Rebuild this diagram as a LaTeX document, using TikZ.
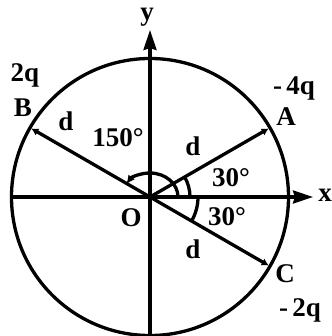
\documentclass[tikz,border=0pt]{standalone}
\usepackage{fontspec}
\setmainfont{Liberation Serif}
\usetikzlibrary{arrows.meta}
\begin{document}
\begin{tikzpicture}[
		x = 1pt, y = 1pt,
		ln/.style   = {line width=3.3pt},
		axis/.style = {ln, -{Stealth[length=20pt, width=13pt, inset=2pt]}},
		rad/.style  = {ln, -{Latex[length=7pt, width=8pt]}},
		lbl/.style  = {font=\fontsize{27}{31}\selectfont\bfseries, inner sep=0pt}
		]
		\useasboundingbox (-150,-139) rectangle (181,197);
		
		\coordinate (O)  at (0,0);
		\coordinate (xl) at (-138,0);
		\coordinate (xr) at (163,0);
		\coordinate (yb) at (0,-139);
		\coordinate (yt) at (0,167);
		\coordinate (A)  at (30:137);
		\coordinate (B)  at (150:137);
		\coordinate (C)  at (-30:137);
		
		\draw[ln] (O) circle[radius=138.5];
		\draw[axis] (xl) -- (xr);
		\draw[axis] (yb) -- (yt);
		
		\draw[rad] (O) -- (A);
		\draw[rad] (O) -- (B);
		\draw[rad] (O) -- (C);
		
		% angle marks
		\draw[ln] (40,0) arc[start angle=0, end angle=30, radius=40];
		\draw[ln] (48,0) arc[start angle=0, end angle=-30, radius=48];
		\draw[ln, -{Latex[length=9pt, width=8pt]}] (28,0) arc[start angle=0, end angle=148, x radius=28, y radius=24];
		
		\node[lbl] (lx)   at (175,2)     {x};
		\node[lbl] (ly)   at (-3,180)    {y};
		\node[lbl] (lO)   at (-19,-21)   {O};
		\node[lbl] (lA)   at (136,80)    {A};
		\node[lbl] (lB)   at (-127,89)   {B};
		\node[lbl] (lC)   at (135,-77)   {C};
		\node[lbl] (qA)   at (144,109)   {-\,4q};
		\node[lbl] (qB)   at (-125,122)  {2q};
		\node[lbl] (qC)   at (150,-113)  {-\,2q};
		\node[lbl] (dA)   at (43,51)     {d};
		\node[lbl] (dB)   at (-84,76)    {d};
		\node[lbl] (dC)   at (43,-52)    {d};
		\node[lbl] (a150) at (-32,59)    {150°};
		\node[lbl] (a30u) at (81,19)     {30°};
		\node[lbl] (a30d) at (77,-20)    {30°};
	\end{tikzpicture}
\end{document}
